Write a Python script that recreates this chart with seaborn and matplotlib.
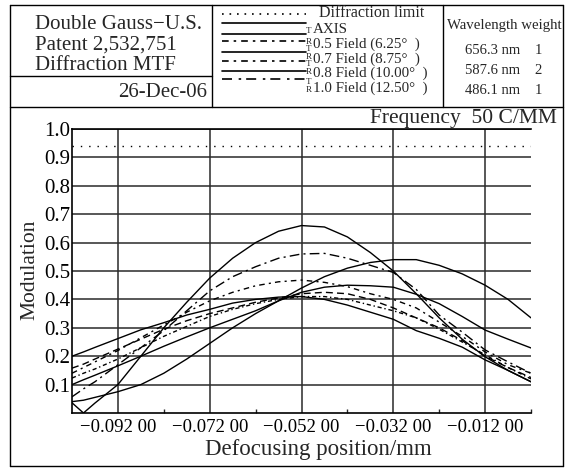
import matplotlib
matplotlib.use('Agg')
import numpy as np
import pandas as pd
import matplotlib.pyplot as plt
import seaborn as sns
from matplotlib.lines import Line2D
from matplotlib.ticker import FixedLocator

defocus = [-0.102, -0.0995, -0.097, -0.092, -0.087, -0.082, -0.077, -0.072, -0.067, -0.062,
           -0.057, -0.052, -0.047, -0.042, -0.037, -0.032, -0.027, -0.022, -0.017, -0.012,
           -0.007, -0.002]

# modulation values for each field / orientation
axis_t = [0.036, 0.0, 0.035, 0.10, 0.20, 0.30, 0.39, 0.475, 0.545, 0.60,
          0.64, 0.66, 0.655, 0.62, 0.565, 0.50, 0.42, 0.335, 0.26, 0.198, 0.15, 0.11]
f05_r = [0.057, 0.085, 0.11, 0.17, 0.23, 0.29, 0.36, 0.43, 0.48, 0.515,
         0.545, 0.56, 0.562, 0.545, 0.52, 0.495, 0.435, 0.345, 0.285, 0.222, 0.18, 0.14]
f05_t = [0.04, 0.045, 0.055, 0.075, 0.10, 0.14, 0.19, 0.245, 0.30, 0.35,
         0.395, 0.44, 0.48, 0.51, 0.53, 0.54, 0.54, 0.52, 0.49, 0.45, 0.40, 0.335]
f07_t = [0.10, 0.117, 0.133, 0.166, 0.20, 0.235, 0.268, 0.30, 0.33, 0.36,
         0.395, 0.425, 0.443, 0.45, 0.448, 0.443, 0.418, 0.385, 0.34, 0.292, 0.26, 0.229]
f07_r = [0.14, 0.16, 0.18, 0.22, 0.265, 0.31, 0.355, 0.395, 0.425, 0.448,
         0.462, 0.468, 0.46, 0.445, 0.42, 0.40, 0.37, 0.32, 0.27, 0.215, 0.17, 0.14]
f08_t = [0.20, 0.215, 0.231, 0.262, 0.293, 0.318, 0.345, 0.365, 0.387, 0.40,
         0.408, 0.41, 0.40, 0.38, 0.355, 0.33, 0.29, 0.263, 0.232, 0.187, 0.15, 0.11]
f08_r = [0.158, 0.172, 0.19, 0.225, 0.26, 0.295, 0.325, 0.35, 0.37, 0.39,
         0.405, 0.42, 0.425, 0.42, 0.40, 0.37, 0.335, 0.30, 0.255, 0.20, 0.16, 0.125]
f10_r = [0.123, 0.14, 0.155, 0.19, 0.23, 0.27, 0.305, 0.34, 0.365, 0.385,
         0.40, 0.41, 0.41, 0.40, 0.38, 0.36, 0.335, 0.295, 0.25, 0.205, 0.16, 0.12]

diffraction_limit = 0.94

y_ticks = [0.1, 0.2, 0.3, 0.4, 0.5, 0.6, 0.7, 0.8, 0.9, 1.0]
x_ticks = [-0.092, -0.072, -0.052, -0.032, -0.012]
x_labels = ['\u22120.092 00', '\u22120.072 00', '\u22120.052 00', '\u22120.032 00', '\u22120.012 00']

curves = {
    'AXIS': axis_t, '0.5 T': f05_t, '0.5 R': f05_r, '0.7 T': f07_t,
    '0.7 R': f07_r, '0.8 T': f08_t, '0.8 R': f08_r, '1.0 R': f10_r,
}
dash_styles = {
    'AXIS': '', '0.5 T': '', '0.5 R': (7, 3, 1.5, 3), '0.7 T': '',
    '0.7 R': (4, 3, 1.5, 3), '0.8 T': '', '0.8 R': (5, 3), '1.0 R': (3, 2, 1, 2),
}

df = pd.DataFrame([
    {'defocus': x, 'modulation': y, 'curve': name}
    for name, vals in curves.items() for x, y in zip(defocus, vals)
])

sns.set_style('white')
plt.rcParams['font.family'] = ['Liberation Serif', 'DejaVu Serif']

W, H = 572, 468
fig = plt.figure(figsize=(W / 100, H / 100), dpi=100)


def fx(px):
    return px / W


def fy(py):
    return 1 - py / H


ax = fig.add_axes([fx(72), fy(413), fx(531) - fx(72), fy(129) - fy(413)])

sns.lineplot(data=df, x='defocus', y='modulation', hue='curve', style='curve',
             palette=['black'] * len(curves), dashes=dash_styles, sort=False,
             estimator=None, linewidth=1.0, legend=False, ax=ax)
ax.axhline(diffraction_limit, color='black', lw=1.0, ls=(0, (1, 5)))

ax.set_xlim(-0.102, -0.002)
ax.set_ylim(0, 1.0)
ax.set_yticks(y_ticks)
ax.set_yticklabels(['%.1f' % v for v in y_ticks])
ax.set_xticks(x_ticks)
ax.set_xticklabels(x_labels)
ax.xaxis.set_minor_locator(FixedLocator([-0.082, -0.062, -0.042, -0.022, -0.002]))
ax.tick_params(axis='both', which='major', length=0, colors='black')
ax.tick_params(axis='y', which='major', labelsize=15, pad=1)
ax.tick_params(axis='x', which='major', labelsize=13.5, pad=4)
ax.tick_params(axis='x', which='minor', direction='in', length=3, width=1, bottom=True)
ax.grid(True, which='major', color='#2a2a2a', lw=1.1)
for side in ['left', 'bottom', 'top']:
    ax.spines[side].set_color('black')
    ax.spines[side].set_linewidth(1.2)
ax.spines['right'].set_visible(False)
ax.set_xlabel('')
ax.set_ylabel('')

fig.text(fx(30), fy(270), 'Modulation', rotation=90, fontsize=15.5, ha='center', va='center')
fig.text(fx(318), fy(450), 'Defocusing position/mm', fontsize=16.5, ha='center', va='center')
fig.text(fx(557), fy(123), 'Frequency  50 C/MM', fontsize=15.5, ha='right', va='baseline')


# frame around the whole sheet
def seg(x0, y0, x1, y1, **kw):
    kw.setdefault('color', 'black')
    kw.setdefault('lw', 1.0)
    fig.add_artist(Line2D([fx(x0), fx(x1)], [fy(y0), fy(y1)], transform=fig.transFigure, **kw))


seg(10, 5, 563, 5)
seg(10, 466, 563, 466)
seg(10, 5, 10, 466)
seg(563, 5, 563, 466)
seg(10, 107, 563, 107)
seg(212, 5, 212, 107)
seg(443, 5, 443, 107)
seg(10, 76, 212, 76)

# title block
for txt, base in [('Double Gauss\u2212U.S.', 29), ('Patent 2,532,751', 50), ('Diffraction MTF', 70)]:
    fig.text(fx(35), fy(base), txt, fontsize=15, va='baseline', ha='left')
fig.text(fx(207), fy(97), '26-Dec-06', fontsize=15, va='baseline', ha='right')

# header legend
sample_rows = [(14, (0, (1, 3.5))), (23, '-'), (34, '-'), (41, (0, (4, 3, 1.5, 3))),
               (52, '-'), (61, (0, (4, 3, 1.5, 3))), (71, '-'), (79, (0, (6, 4, 1.5, 3)))]
for yy, ls in sample_rows:
    seg(222, yy, 306, yy, ls=ls, lw=1.2)

fig.text(fx(319), fy(17), 'Diffraction limit', fontsize=11.5, va='baseline')
legend_rows = [('AXIS', 33), ('0.5 Field (6.25\u00b0  )', 48), ('0.7 Field (8.75\u00b0  )', 62.5),
               ('0.8 Field (10.00\u00b0  )', 77), ('1.0 Field (12.50\u00b0  )', 92)]
for txt, base in legend_rows:
    fig.text(fx(313), fy(base), txt, fontsize=10.8, va='baseline')
for letter, yy in [('T', 31), ('R', 42), ('T', 49), ('R', 57), ('T', 64), ('R', 72), ('T', 82), ('R', 90)]:
    fig.text(fx(309), fy(yy), letter, fontsize=6.5, ha='center', va='center')

# wavelength block
fig.text(fx(504), fy(25), 'Wavelength weight', fontsize=10.7, ha='center', va='center')
for wl, wt, yy in [('656.3 nm', '1', 50), ('587.6 nm', '2', 70), ('486.1 nm', '1', 90)]:
    fig.text(fx(493), fy(yy), wl, fontsize=10.5, ha='center', va='center')
    fig.text(fx(538), fy(yy), wt, fontsize=10.5, ha='center', va='center')

fig.savefig('out.png', dpi=100)
